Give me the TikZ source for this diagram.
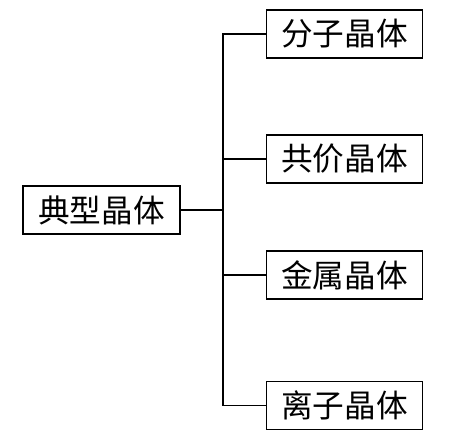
\documentclass[tikz,border=0pt]{standalone}
\usepackage{fontspec}
\newfontfamily\cjk{Noto Sans CJK SC}
\begin{document}
\begin{tikzpicture}
    \tikzstyle{crystal} = [rectangle, minimum width=3.12cm, minimum height=0.96cm, text centered, draw=black, line width=0.8pt, font=\cjk\fontsize{18}{20}\selectfont]
    \tikzstyle{line} = [line width=0.8pt]

    \useasboundingbox (0,0) rectangle (9.38,-8.64);

    \node (root) [crystal, minimum width=3.14cm] at (2.03,-4.20) {典型晶体};
    \node (c1) [crystal] at (6.89,-0.68) {分子晶体};
    \node (c2) [crystal] at (6.89,-3.18) {共价晶体};
    \node (c3) [crystal] at (6.89,-5.50) {金属晶体};
    \node (c4) [crystal] at (6.89,-8.11) {离子晶体};
    \coordinate (jn) at (4.46,-4.20);

    \draw [line] (root.east) -- (jn);
    % Verzweigung
    \draw [line] (c1.west) -| (jn) |- (c4.west);
    \foreach \c in {c2,c3}
        \draw [line] (\c.west) -- (\c.west -| jn);
\end{tikzpicture}
\end{document}
